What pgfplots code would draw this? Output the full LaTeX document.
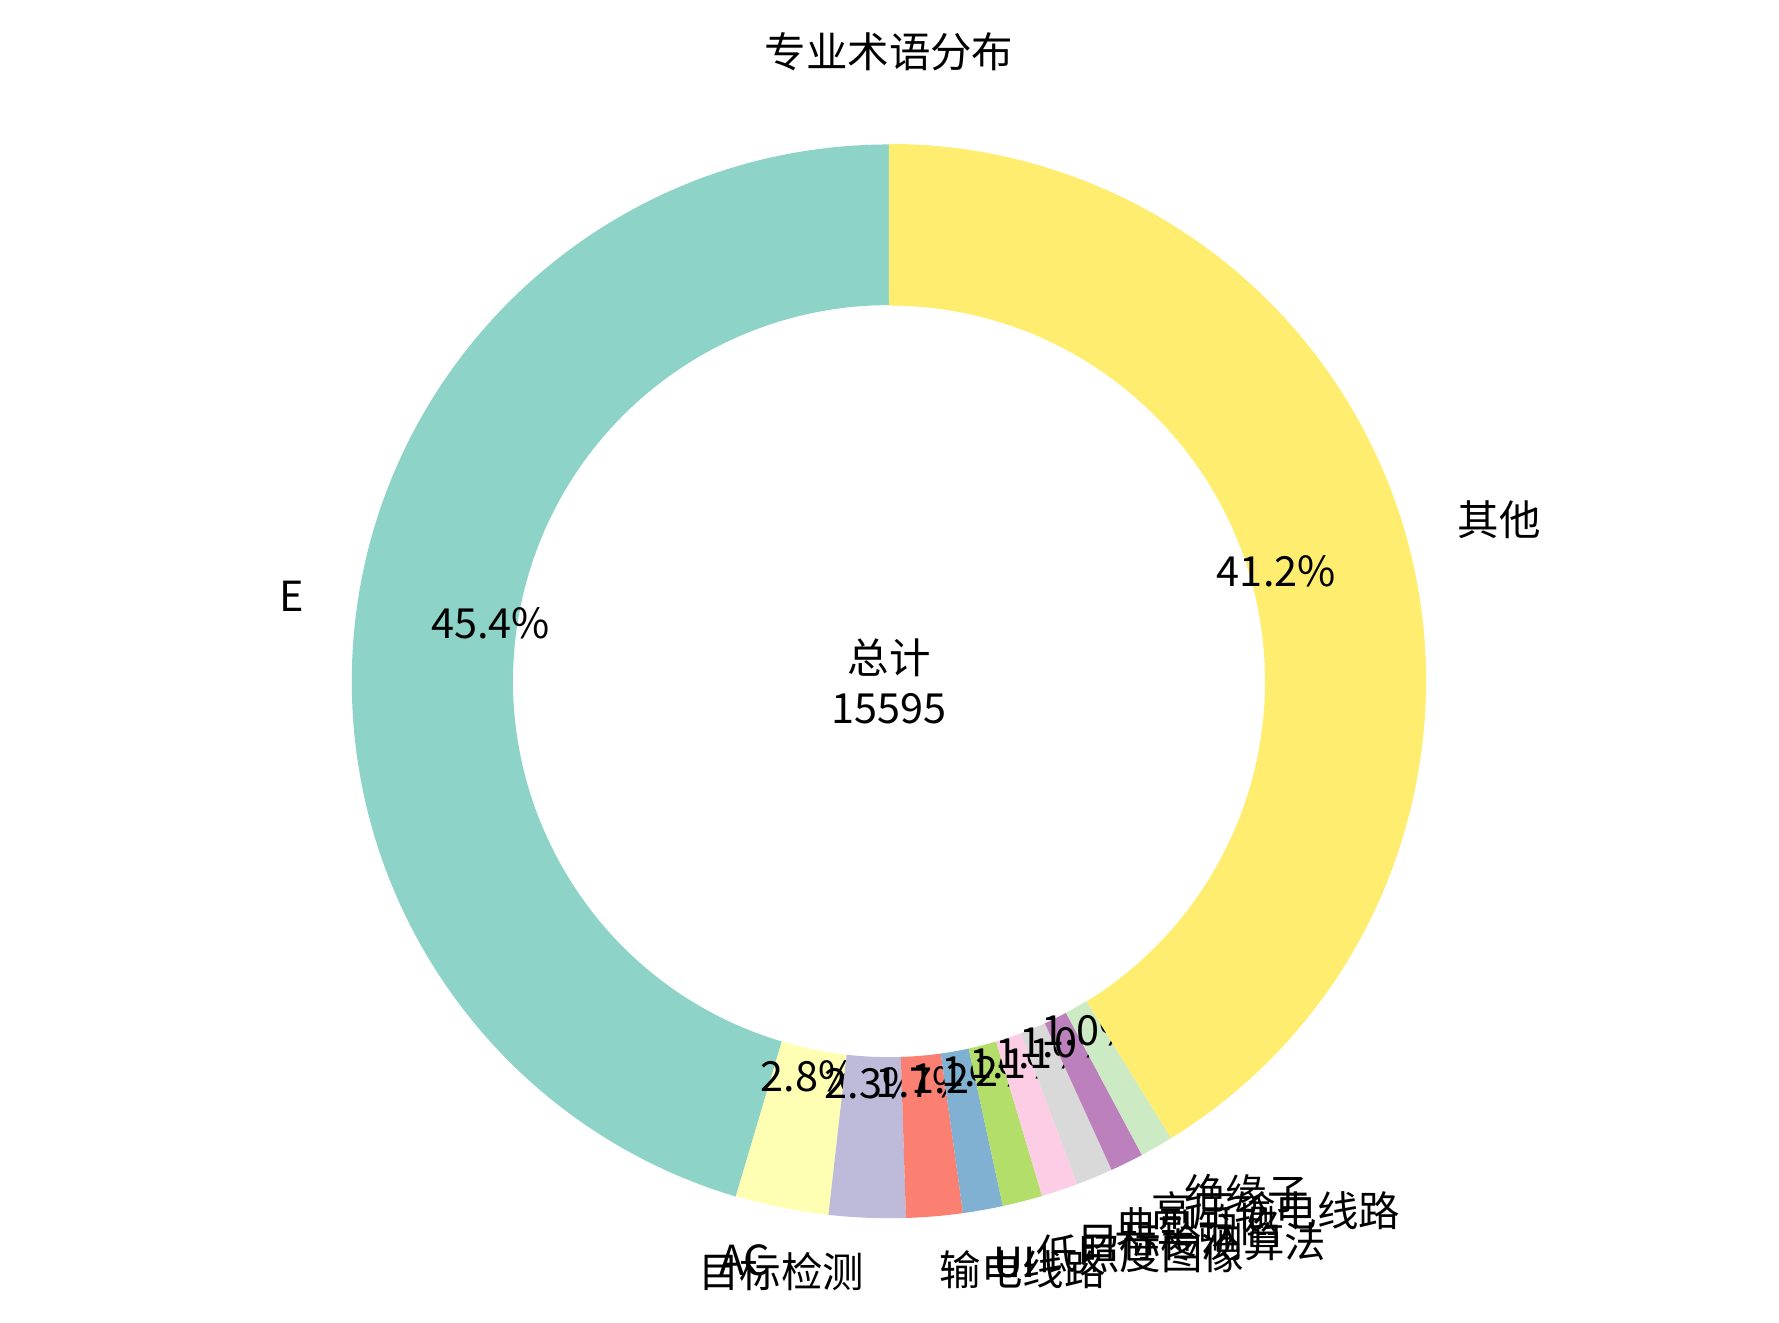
\documentclass[border=0pt]{standalone}
\usepackage{fontspec}
\setmainfont{Noto Sans CJK SC}
\usepackage{pgfplots}
\usepackage{pgfplotstable}
\pgfplotsset{compat=1.18}
\pgfkeys{/pgf/number format/assume math mode=true}

% Set3 colours, as sampled for 11 slices
\definecolor{c0}{HTML}{8DD3C7}
\definecolor{c1}{HTML}{FFFFB3}
\definecolor{c2}{HTML}{BEBADA}
\definecolor{c3}{HTML}{FB8072}
\definecolor{c4}{HTML}{80B1D3}
\definecolor{c5}{HTML}{B3DE69}
\definecolor{c6}{HTML}{FCCDE5}
\definecolor{c7}{HTML}{D9D9D9}
\definecolor{c8}{HTML}{BC80BD}
\definecolor{c9}{HTML}{CCEBC5}
\definecolor{c10}{HTML}{FFED6F}

\pgfplotstableread[col sep=comma]{
label,value
E,7080
AC,437
目标检测,359
输电线路,265
UI,187
低照度图像,187
目标检测算法,172
典型缺陷,172
高压输电线路,156
绝缘子,156
其他,6424
}\terms

\begin{document}
\begin{tikzpicture}[font=\fontsize{11.8}{14.2}\selectfont]
\useasboundingbox (0,0) rectangle (17.79cm,13.23cm);
\pgfplotstablegetrowsof{\terms}
\pgfmathtruncatemacro\nlast{\pgfplotsretval-1}
\def\total{0}
\pgfplotsforeachungrouped \i in {0,...,\nlast}{%
  \pgfplotstablegetelem{\i}{value}\of\terms
  \pgfmathsetmacro\total{\total+\pgfplotsretval}%
}
\pgfmathtruncatemacro\totalint{\total}
% centre and radii in axis units (1 unit = 0.01cm)
\def\cx{889.5}\def\cy{642}
\def\Rout{537.2}\def\Rin{376.0}\def\Rpct{402.9}\def\Rlab{590.9}
\begin{axis}[
    at={(0,0)}, anchor=south west,
    x=0.01cm, y=0.01cm, disabledatascaling,
    xmin=0, xmax=1779, ymin=0, ymax=1323,
    hide axis, clip=false]
  \def\cum{0}
  \pgfplotsforeachungrouped \i in {0,...,\nlast}{%
    \pgfplotstablegetelem{\i}{value}\of\terms
    \let\v\pgfplotsretval
    \pgfplotstablegetelem{\i}{label}\of\terms
    \let\lab\pgfplotsretval
    \pgfmathsetmacro\aS{90+360*(\cum/\total)}%
    \pgfmathsetmacro\cumnew{\cum+\v}%
    \pgfmathsetmacro\aE{90+360*(\cumnew/\total)}%
    \pgfmathsetmacro\aM{(\aS+\aE)/2}%
    \pgfmathsetmacro\pct{100*(\v/\total)}%
    \pgfmathsetmacro\xa{\cx+\Rout*cos(\aS)}%
    \pgfmathsetmacro\ya{\cy+\Rout*sin(\aS)}%
    \pgfmathsetmacro\xb{\cx+\Rin*cos(\aE)}%
    \pgfmathsetmacro\yb{\cy+\Rin*sin(\aE)}%
    \pgfmathsetmacro\px{\cx+\Rpct*cos(\aM)}%
    \pgfmathsetmacro\py{\cy+\Rpct*sin(\aM)}%
    \pgfmathsetmacro\lx{\cx+\Rlab*cos(\aM)}%
    \pgfmathsetmacro\ly{\cy+\Rlab*sin(\aM)}%
    \pgfmathsetmacro\cc{cos(\aM)}%
    \ifdim\cc pt>0pt \def\anc{west}\else\def\anc{east}\fi
    \edef\temp{%
      \noexpand\fill[c\i] (axis cs:\xa,\ya) arc[start angle=\aS, end angle=\aE, radius=5.372cm]
        -- (axis cs:\xb,\yb) arc[start angle=\aE, end angle=\aS, radius=3.760cm] -- cycle;
      \noexpand\node[inner sep=0pt, anchor=center] at (axis cs:\px,\py)
        {\noexpand\pgfmathprintnumber[fixed,fixed zerofill,precision=1]{\pct}\noexpand\%};
      \noexpand\node[inner sep=0pt, anchor=\anc] at (axis cs:\lx,\ly) {\lab};
    }\temp
    \let\cum\cumnew
  }
  \node[align=center, inner sep=0pt] at (axis cs:\cx,\cy) {总计\\\totalint};
  \node[inner sep=0pt] at (axis cs:\cx,1272) {专业术语分布};
\end{axis}
\end{tikzpicture}
\end{document}
